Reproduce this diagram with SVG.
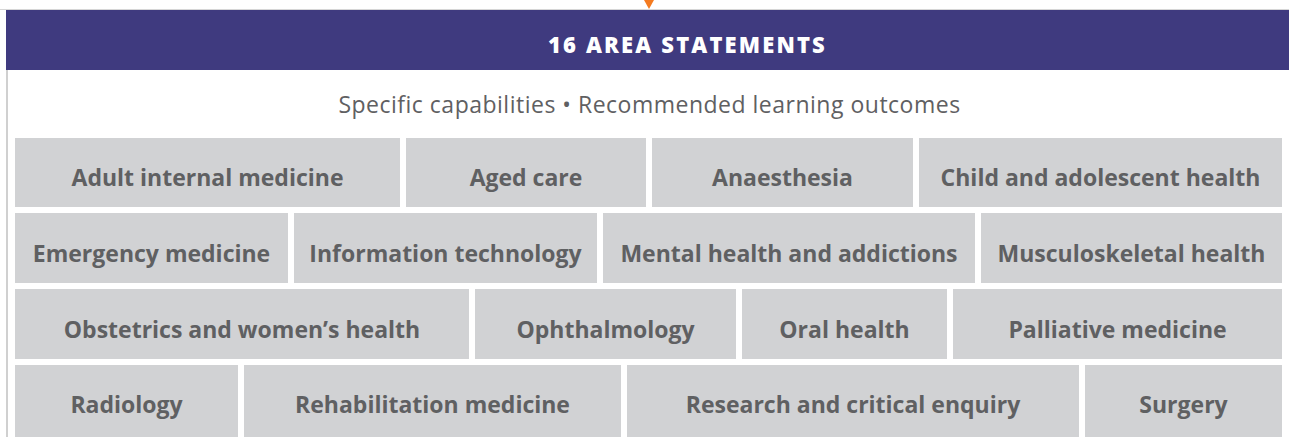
<svg xmlns="http://www.w3.org/2000/svg" width="1289" height="437" viewBox="0 0 1289 437">
<style>
.cell{fill:#d1d2d4}
.lbl{font-family:"Open Sans","Liberation Sans",sans-serif;font-weight:bold;font-size:23px;fill:#5f6062;text-anchor:middle}
</style>
<rect x="0" y="0" width="1289" height="437" fill="#ffffff"/>
<line x1="0" y1="9.5" x2="1289" y2="9.5" stroke="#d6d6d6" stroke-width="1"/>
<g id="connectors">
<polygon points="644,0 654,0 649,9" fill="#f47b20"/>
</g>
<g id="header">
<rect x="6" y="10" width="1283" height="60" fill="#3f3a7f"/>
<text x="687.5" y="52.5" font-family="'Open Sans','Liberation Sans',sans-serif" font-weight="800" font-size="22" letter-spacing="2.15" fill="#ffffff" text-anchor="middle">16 AREA STATEMENTS</text>
</g>
<line x1="7" y1="70" x2="7" y2="437" stroke="#d0d0d0" stroke-width="2"/>
<text x="649.5" y="112.5" font-family="'Open Sans','Liberation Sans',sans-serif" font-size="23" letter-spacing="0.5" fill="#5f6062" text-anchor="middle">Specific capabilities • Recommended learning outcomes</text>
<g id="n1"><rect class="cell" x="15" y="138" width="385" height="69"/><text class="lbl" x="207.5" y="186">Adult internal medicine</text></g>
<g id="n2"><rect class="cell" x="406" y="138" width="240" height="69"/><text class="lbl" x="526" y="186">Aged care</text></g>
<g id="n3"><rect class="cell" x="652" y="138" width="261" height="69"/><text class="lbl" x="782.5" y="186">Anaesthesia</text></g>
<g id="n4"><rect class="cell" x="919" y="138" width="363" height="69"/><text class="lbl" x="1100.5" y="186">Child and adolescent health</text></g>
<g id="n5"><rect class="cell" x="15" y="213" width="273" height="70"/><text class="lbl" x="151.5" y="262">Emergency medicine</text></g>
<g id="n6"><rect class="cell" x="294" y="213" width="303" height="70"/><text class="lbl" x="445.5" y="262">Information technology</text></g>
<g id="n7"><rect class="cell" x="603" y="213" width="372" height="70"/><text class="lbl" x="789" y="262">Mental health and addictions</text></g>
<g id="n8"><rect class="cell" x="981" y="213" width="301" height="70"/><text class="lbl" x="1131.5" y="262">Musculoskeletal health</text></g>
<g id="n9"><rect class="cell" x="15" y="289" width="454" height="70"/><text class="lbl" x="242" y="338">Obstetrics and women’s health</text></g>
<g id="n10"><rect class="cell" x="475" y="289" width="261" height="70"/><text class="lbl" x="605.5" y="338">Ophthalmology</text></g>
<g id="n11"><rect class="cell" x="742" y="289" width="205" height="70"/><text class="lbl" x="844.5" y="338">Oral health</text></g>
<g id="n12"><rect class="cell" x="953" y="289" width="329" height="70"/><text class="lbl" x="1117.5" y="338">Palliative medicine</text></g>
<g id="n13"><rect class="cell" x="15" y="365" width="223" height="72"/><text class="lbl" x="126.5" y="413">Radiology</text></g>
<g id="n14"><rect class="cell" x="244" y="365" width="377" height="72"/><text class="lbl" x="432.5" y="413">Rehabilitation medicine</text></g>
<g id="n15"><rect class="cell" x="627" y="365" width="452" height="72"/><text class="lbl" x="853" y="413">Research and critical enquiry</text></g>
<g id="n16"><rect class="cell" x="1085" y="365" width="197" height="72"/><text class="lbl" x="1183.5" y="413">Surgery</text></g>
</svg>
